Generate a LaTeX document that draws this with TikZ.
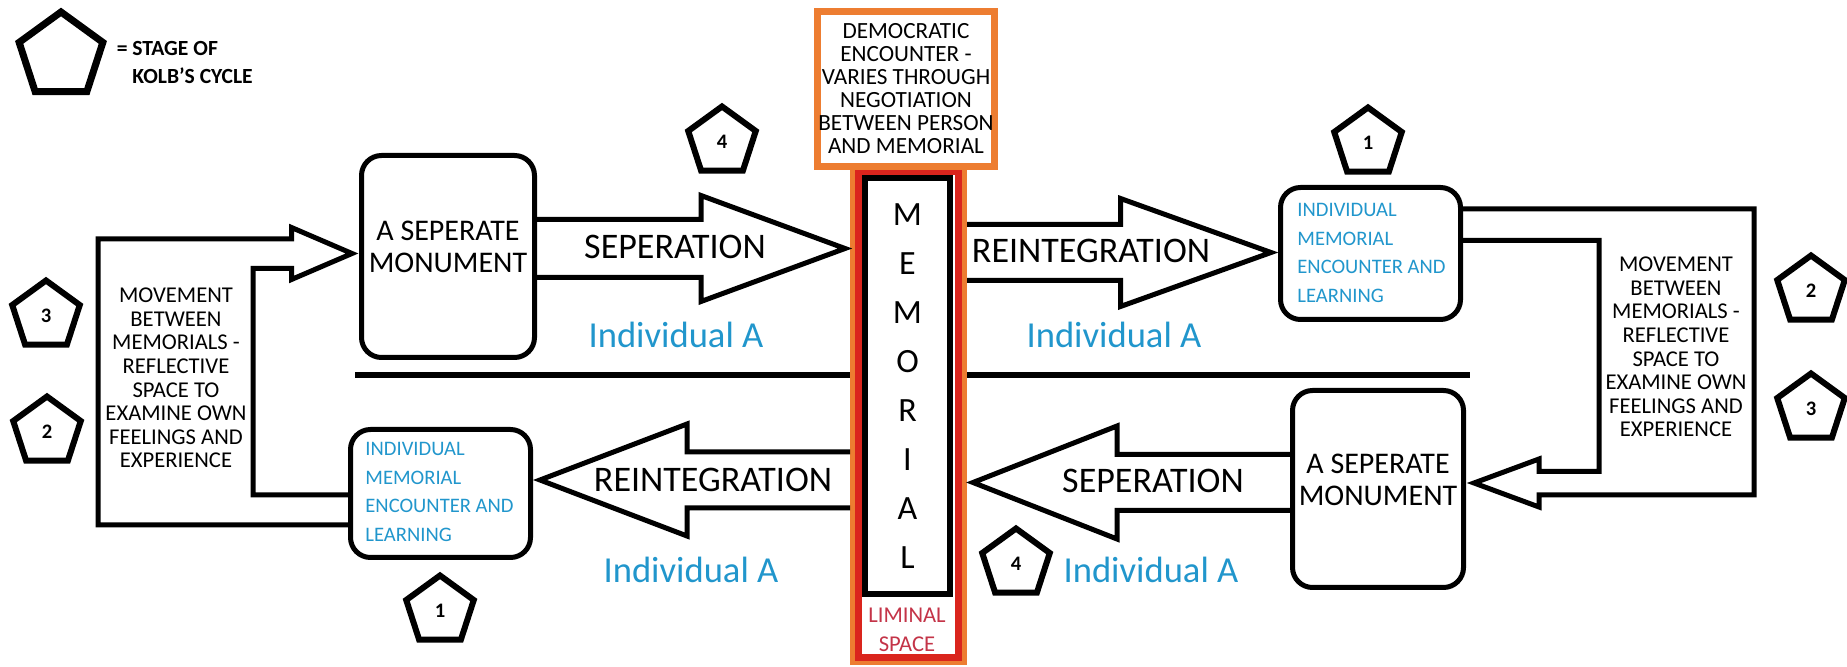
\documentclass[tikz,border=0pt]{standalone}
\usepackage{fontspec}
\setmainfont{Carlito}
\usetikzlibrary{shapes.geometric,calc}

\definecolor{indblue}{RGB}{33,150,204}
\definecolor{memorange}{RGB}{237,125,49}
\definecolor{memred}{RGB}{218,37,29}
\definecolor{limred}{RGB}{196,52,72}

\tikzset{
  kolb/.style={regular polygon, regular polygon sides=5, draw, line width=3pt,
    minimum size=35.5pt, inner sep=0pt, font=\fontsize{10.3}{12}\selectfont\bfseries},
  bigbox/.style={draw, rounded corners=10pt, line width=2.5pt, outer sep=0pt},
  blocky/.style={line width=2.5pt},
  capsmall/.style={inner sep=0pt, align=center, font=\fontsize{11.3}{11.8}\selectfont},
  bluetxt/.style={inner sep=0pt, align=left, text=indblue, font=\fontsize{10.3}{14.2}\selectfont},
  monutxt/.style={inner sep=0pt, align=center, font=\fontsize{15}{16}\selectfont},
  flowtxt/.style={inner sep=0pt, anchor=base, font=\fontsize{18}{20}\selectfont},
  indtxt/.style={inner sep=0pt, anchor=base, text=indblue, font=\fontsize{18.3}{20}\selectfont}
}

\begin{document}
\begin{tikzpicture}[x=0.5pt, y=-0.5pt]
        \useasboundingbox (0,0) rectangle (1847,667);

        % legend
        \node[kolb, minimum size=44pt, line width=3.5pt] (legend) at (61,56) {};
        \node[inner sep=0pt, align=left, anchor=west, font=\fontsize{10.8}{14}\selectfont\bfseries] (legendtxt) at (132,62) {\llap{= }STAGE OF\\KOLB'S CYCLE};

        % divider between the two rows
        \draw[line width=3pt] (355,375) -- (1470,375);

        % memorial column
        \node[draw=memorange, fill=white, line width=2.5pt, minimum width=56pt, minimum height=248pt, inner sep=0pt] (col) at (908.5,414.5) {};
        \node[draw=memred, line width=3.5pt, minimum width=50pt, minimum height=243pt, inner sep=0pt] (liminal) at (908.5,414.5) {};
        \node[draw, fill=white, line width=3pt, minimum width=42.5pt, minimum height=207.75pt, inner sep=0pt, align=center, font=\fontsize{17}{24.5}\selectfont] (mem) at (907.5,386.25) {M\\E\\M\\O\\R\\I\\A\\L};
        \node[capsmall, text=limred, font=\fontsize{11.3}{14.5}\selectfont] (limtxt) at (907,630) {LIMINAL\\SPACE};
        \node[draw=memorange, fill=white, line width=3.5pt, minimum width=88.5pt, minimum height=77.5pt, capsmall, font=\fontsize{11.6}{11.5}\selectfont] (demo) at (906,89) {DEMOCRATIC\\ENCOUNTER -\\VARIES THROUGH\\NEGOTIATION\\BETWEEN PERSON\\AND MEMORIAL};

        % boxes
        \node[bigbox, minimum width=86.5pt, minimum height=101pt] (monTL) at (448,256.5) {};
        \node[monutxt] (monTLtxt) at ($(monTL)+(0,-9.5)$) {A SEPERATE\\MONUMENT};
        \node[bigbox, minimum width=90pt, minimum height=66pt] (imTR) at (1370.5,253.5) {};
        \node[bluetxt, anchor=west] (imTRtxt) at ($(imTR.west)+(16.5,-0.5)$) {INDIVIDUAL\\MEMORIAL\\ENCOUNTER AND\\LEARNING};
        \node[bigbox, minimum width=85.5pt, minimum height=98.5pt] (monBR) at (1378,489) {};
        \node[monutxt] (monBRtxt) at ($(monBR)+(0,-9)$) {A SEPERATE\\MONUMENT};
        \node[bigbox, minimum width=90pt, minimum height=64pt] (imBL) at (440.5,493.5) {};
        \node[bluetxt, anchor=west] (imBLtxt) at ($(imBL.west)+(14.5,-1.5)$) {INDIVIDUAL\\MEMORIAL\\ENCOUNTER AND\\LEARNING};

        % arrow tips
        \coordinate (t1) at ($(col.west |- monTL.east)+(-5,-8)$);
        \coordinate (t2) at ($(imTR.west)+(-9.5,-1)$);
        \coordinate (t3) at ($(imBL.east)+(9.5,-13.5)$);
        \coordinate (t4) at ($(col.east |- monBR.west)+(6,-6.5)$);
        \coordinate (t5) at ($(monTL.west)+(-9.5,-3)$);
        \coordinate (t6) at ($(monBR.east)+(10.5,-6)$);

        % block arrows
        \draw[blocky] ($(monTL.east)+(0,-37)$) -- ($(t1)+(-144,-29)$) -- ($(t1)+(-144,-53)$) -- (t1) -- ($(t1)+(-144,53)$) -- ($(t1)+(-144,29)$) -- ($(monTL.east)+(0,21)$);
        \draw[blocky] ($(col.east |- t2)+(0,-28)$) -- ($(t2)+(-150.5,-28)$) -- ($(t2)+(-150.5,-54)$) -- (t2) -- ($(t2)+(-150.5,54)$) -- ($(t2)+(-150.5,28)$) -- ($(col.east |- t2)+(0,28)$);
        \draw[blocky] ($(col.west |- t3)+(0,-28)$) -- ($(t3)+(147,-28)$) -- ($(t3)+(147,-56)$) -- (t3) -- ($(t3)+(147,56)$) -- ($(t3)+(147,28)$) -- ($(col.west |- t3)+(0,28)$);
        \draw[blocky] ($(monBR.west |- t4)+(0,-28)$) -- ($(t4)+(144,-28)$) -- ($(t4)+(144,-56.5)$) -- (t4) -- ($(t4)+(144,56.5)$) -- ($(t4)+(144,28)$) -- ($(monBR.west |- t4)+(0,28)$);

        % loops between memorials
        \draw[blocky] ($(imBL.west)+(0,1.5)$) -| ($(t5)+(-99,15)$) -- ($(t5)+(-60.5,15)$) -- ($(t5)+(-60.5,26)$) -- (t5) -- ($(t5)+(-60.5,-26)$) -- ($(t5)+(-60.5,-14.5)$) -- ($(t5)+(-254,-14.5)$) |- ($(imBL.west)+(0,31.5)$);
        \draw[blocky] ($(imTR.east)+(0,-13)$) -| ($(t6)+(125,-11.5)$) -- ($(t6)+(65,-11.5)$) -- ($(t6)+(65,-24)$) -- (t6) -- ($(t6)+(65,24)$) -- ($(t6)+(65,12)$) -- ($(t6)+(280,12)$) |- ($(imTR.east)+(0,-44.5)$);

        % arrow labels
        \node[flowtxt] (sepTop) at (675,259) {SEPERATION};
        \node[flowtxt] (reinTop) at (1091,263) {REINTEGRATION};
        \node[flowtxt] (reinBot) at (713,492) {REINTEGRATION};
        \node[flowtxt] (sepBot) at (1153,493) {SEPERATION};
        \node[indtxt] (indTL) at (676,348) {Individual A};
        \node[indtxt] (indTR) at (1114,348) {Individual A};
        \node[indtxt] (indBL) at (691,582) {Individual A};
        \node[indtxt] (indBR) at (1151,582) {Individual A};

        \node[capsmall] (moveL) at (176,378) {MOVEMENT\\BETWEEN\\MEMORIALS -\\REFLECTIVE\\SPACE TO\\EXAMINE OWN\\FEELINGS AND\\EXPERIENCE};
        \node[capsmall] (moveR) at (1676,347) {MOVEMENT\\BETWEEN\\MEMORIALS -\\REFLECTIVE\\SPACE TO\\EXAMINE OWN\\FEELINGS AND\\EXPERIENCE};

        % stages of Kolb's cycle
        \node[kolb] (k4a) at (722,142) {4};
        \node[kolb] (k1a) at (1368,143) {1};
        \node[kolb] (k2a) at (1811,291) {2};
        \node[kolb] (k3a) at (1811,409) {3};
        \node[kolb] (k3b) at (46,316) {3};
        \node[kolb] (k2b) at (47,432) {2};
        \node[kolb] (k1b) at (440,611) {1};
        \node[kolb] (k4b) at (1016,564) {4};
\end{tikzpicture}
\end{document}
